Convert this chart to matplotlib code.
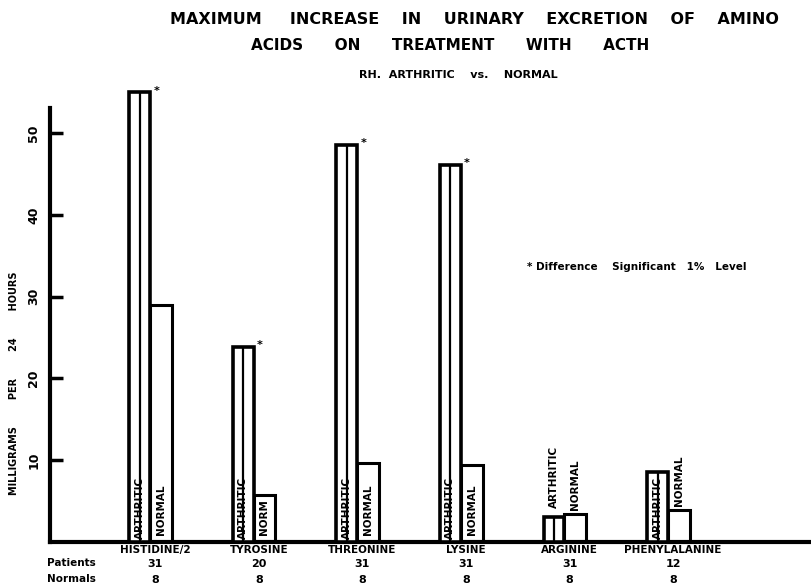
import numpy as np
import matplotlib
matplotlib.use("Agg")
import matplotlib.pyplot as plt

# 값
amino_acids = ["HISTIDINE/2", "TYROSINE", "THREONINE", "LYSINE", "ARGININE", "PHENYLALANINE"]
arthritic = [55.0, 23.9, 48.6, 46.1, 3.1, 8.6]
normal = [29.0, 5.7, 9.7, 9.4, 3.4, 3.9]
significant = [True, True, True, True, False, False]
patients = ["31", "20", "31", "31", "31", "12"]
normals = ["8", "8", "8", "8", "8", "8"]
normal_labels = ["NORMAL", "NORM", "NORMAL", "NORMAL", "NORMAL", "NORMAL"]
y_ticks = [10, 20, 30, 40, 50]

plt.rcParams['font.family'] = ['DejaVu Sans']
plt.rcParams['font.weight'] = 'bold'

fig = plt.figure(figsize=(8.12, 5.84), dpi=100)
ax = fig.add_axes([50 / 812, 42 / 584, 762 / 812, 458 / 584])

x = np.arange(len(amino_acids))
w_a = 0.2
w_n = 0.21

ax.bar(x, arthritic, width=-w_a, align='edge', color='white', edgecolor='black', linewidth=2.6, zorder=3)
ax.vlines(x - w_a / 2, 0, arthritic, color='black', linewidth=1.6, zorder=4)
ax.bar(x, normal, width=w_n, align='edge', color='white', edgecolor='black', linewidth=2.2, zorder=2)

# 막대 안/위 글자
for i in range(len(x)):
    if arthritic[i] > 5:
        ax.text(x[i] - w_a / 2, 0.4, "ARTHRITIC", rotation=90, ha='center', va='bottom',
                fontsize=7.5, fontweight='bold', zorder=5)
    else:
        ax.text(x[i] - w_a / 2, arthritic[i] + 1.0, "ARTHRITIC", rotation=90, ha='center', va='bottom',
                fontsize=7.5, fontweight='bold', zorder=5)
    if normal[i] > 5:
        ax.text(x[i] + w_n / 2, 0.8, normal_labels[i], rotation=90, ha='center', va='bottom',
                fontsize=7.5, fontweight='bold', zorder=5)
    else:
        ax.text(x[i] + w_n / 2, normal[i] + 0.5, normal_labels[i], rotation=90, ha='center', va='bottom',
                fontsize=7.5, fontweight='bold', zorder=5)
    if significant[i]:
        ax.text(x[i] + 0.06, arthritic[i] + 0.2, "*", ha='center', va='center', fontsize=8, fontweight='bold')

ax.set_xlim(-0.965, 6.39)
ax.set_ylim(0, 56)

for s in ['top', 'right']:
    ax.spines[s].set_visible(False)
ax.spines['left'].set_bounds(0, 53.1)
ax.spines['left'].set_linewidth(3)
ax.spines['bottom'].set_linewidth(3)

ax.set_yticks(y_ticks)
ax.set_yticklabels([str(t) for t in y_ticks], rotation=90, va='center', fontsize=9, fontweight='bold')
ax.tick_params(axis='y', direction='in', length=9, width=2.5, pad=7)

ax.set_xticks(x + 0.05)
ax.set_xticklabels(amino_acids, fontsize=7.5, fontweight='bold')
ax.tick_params(axis='x', length=0, pad=2)

tr = ax.get_xaxis_transform()
for i in range(len(x)):
    ax.text(x[i] + 0.05, -0.048, patients[i], transform=tr, ha='center', va='center', fontsize=8, fontweight='bold')
    ax.text(x[i] + 0.05, -0.083, normals[i], transform=tr, ha='center', va='center', fontsize=8, fontweight='bold')
fig.text(71 / 812, 1 - 563 / 584, "Patients", ha='center', va='center', fontsize=7.5, fontweight='bold')
fig.text(71 / 812, 1 - 579 / 584, "Normals", ha='center', va='center', fontsize=7.5, fontweight='bold')

fig.text(14 / 812, 1 - 383 / 584, "MILLIGRAMS        PER        24        HOURS", rotation=90, ha='center', va='center',
         fontsize=7, fontweight='bold')

# 제목
fig.text(474 / 812, 1 - 20 / 584, "MAXIMUM     INCREASE    IN    URINARY    EXCRETION    OF    AMINO",
         ha='center', va='center', fontsize=11.5, fontweight='heavy')
fig.text(450 / 812, 1 - 45 / 584, "ACIDS      ON      TREATMENT      WITH      ACTH",
         ha='center', va='center', fontsize=11, fontweight='heavy')
fig.text(458 / 812, 1 - 75 / 584, "RH.  ARTHRITIC    vs.    NORMAL",
         ha='center', va='center', fontsize=8, fontweight='heavy')

fig.text(527 / 812, 1 - 267 / 584, "* Difference    Significant   1%   Level",
         ha='left', va='center', fontsize=7.5, fontweight='bold')

fig.savefig("out.png", dpi=100, facecolor='white')
